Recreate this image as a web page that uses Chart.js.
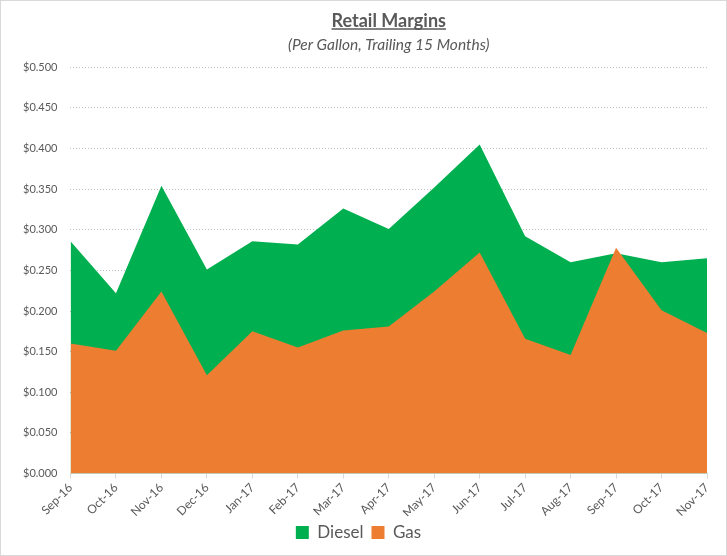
<!DOCTYPE html>
<html><head><meta charset="utf-8">
<script src="https://cdn.jsdelivr.net/npm/chart.js@4.4.1/dist/chart.umd.min.js"></script>
<style>
html,body{margin:0;padding:0;background:#fff;}
#wrap{width:725px;height:554px;border:1px solid #d9d9d9;position:relative;}
canvas{display:block;}
</style></head>
<body>
<div id="wrap"><canvas id="c" width="725" height="554"></canvas></div>
<script>
const categories = ['Sep-16','Oct-16','Nov-16','Dec-16','Jan-17','Feb-17','Mar-17','Apr-17','May-17','Jun-17','Jul-17','Aug-17','Sep-17','Oct-17','Nov-17'];
const dieselValues = [0.286,0.222,0.354,0.251,0.286,0.282,0.326,0.301,0.352,0.405,0.292,0.260,0.271,0.260,0.265];
const gasValues = [0.160,0.151,0.224,0.121,0.175,0.155,0.176,0.181,0.224,0.272,0.166,0.146,0.278,0.201,0.173];
const yTicks = [0,0.05,0.1,0.15,0.2,0.25,0.3,0.35,0.4,0.45,0.5];

const FONT = 'Lato, "Open Sans", sans-serif';
const TITLE_SIZE = 18;
const underline = {
  id:'underline',
  afterDraw(chart){
    const t = chart.titleBlock;
    if(!t) return;
    const ctx = chart.ctx;
    ctx.save();
    ctx.font = 'bold ' + TITLE_SIZE + 'px ' + FONT;
    const w = ctx.measureText(chart.options.plugins.title.text).width;
    const cx = (t.left + t.right)/2;
    const y = t.top + 4 + TITLE_SIZE + 1;
    ctx.strokeStyle = '#595959';
    ctx.lineWidth = 1.3;
    ctx.beginPath();
    ctx.moveTo(cx - w/2, y);
    ctx.lineTo(cx + w/2, y);
    ctx.stroke();
    ctx.restore();
  }
};

new Chart(document.getElementById('c'), {
  type:'line',
  data:{
    labels: categories,
    datasets:[
      {label:'Diesel', data: dieselValues, backgroundColor:'#00b050', borderColor:'#00b050', borderWidth:0, fill:'origin', pointRadius:0, tension:0, order:1},
      {label:'Gas', data: gasValues, backgroundColor:'#ed7d31', borderColor:'#ed7d31', borderWidth:0, fill:'origin', pointRadius:0, tension:0, order:0}
    ]
  },
  options:{
    responsive:false,
    animation:false,
    devicePixelRatio:1,
    layout:{padding:{left:9,right:19,top:5,bottom:4}},
    plugins:{
      title:{display:true, text:'Retail Margins', fullSize:false, color:'#595959', font:{family:FONT, size:TITLE_SIZE, weight:'bold'}, padding:{top:4,bottom:2}},
      subtitle:{display:true, text:'(Per Gallon, Trailing 15 Months)', fullSize:false, color:'#595959', font:{family:FONT, size:15.5, style:'italic'}, padding:{top:2,bottom:13}},
      legend:{position:'bottom', fullSize:true, labels:{sort:(a,b)=>a.datasetIndex-b.datasetIndex, boxWidth:13, boxHeight:13, color:'#595959', font:{family:FONT, size:17}, padding:8}},
      tooltip:{enabled:false}
    },
    scales:{
      x:{
        offset:false,
        afterFit(axis){ axis.height -= 6; },
        grid:{drawOnChartArea:false, drawTicks:true, tickLength:5, color:'#d9d9d9'},
        border:{color:'#d9d9d9'},
        ticks:{color:'#595959', font:{family:FONT, size:12}, maxRotation:45, minRotation:45, autoSkip:false, padding:2}
      },
      y:{
        min:0, max:0.5,
        afterBuildTicks(axis){ axis.ticks = yTicks.map(v=>({value:v})); },
        grid:{color:'#bfbfbf', drawTicks:false, lineWidth:1},
        border:{display:false, dash:[1,2]},
        ticks:{color:'#595959', font:{family:FONT, size:11}, padding:13, callback:(v)=>'$'+Number(v).toFixed(3)}
      }
    }
  },
  plugins:[underline]
});
</script>
</body></html>
